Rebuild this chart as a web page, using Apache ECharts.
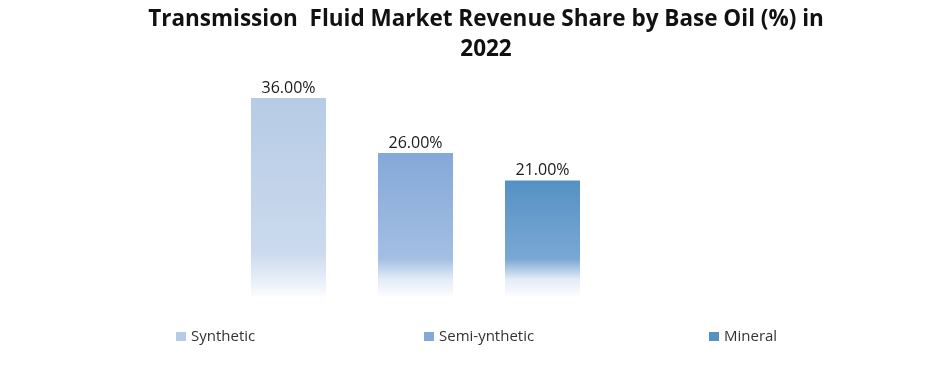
<!DOCTYPE html>
<html><head><meta charset="utf-8">
<script src="https://cdn.jsdelivr.net/npm/echarts@6/dist/echarts.min.js"></script>
<style>html,body{margin:0;padding:0;background:#fff}#c{width:935px;height:371px}</style>
</head><body><div id="c"></div>
<script>
const categories = ['Synthetic', 'Semi-ynthetic', 'Mineral'];
const values = [36, 26, 21];
const topColors = ['#b6cbe5', '#84a8d8', '#5591c5'];
const midColors = ['#cbdaee', '#a3bfe3', '#7aa8d3'];
const fadeStart = [0.78, 0.74, 0.68];

function grad(i){
  return new echarts.graphic.LinearGradient(0,0,0,1,[
    {offset:0,color:topColors[i]},
    {offset:fadeStart[i],color:midColors[i]},
    {offset:fadeStart[i]+(1-fadeStart[i])*0.55,color:'#e3ecf7'},
    {offset:1,color:'#fbfcfe'}
  ]);
}
const series = categories.map((name,i)=>({
  name:name, type:'bar', barWidth:75, barGap:'-100%',
  data: categories.map((c,j)=> j===i ? values[i] : '-'),
  itemStyle:{color:grad(i)},
  label:{show:true,position:'top',distance:2,formatter:p=>p.value.toFixed(2)+'%',
    fontFamily:'Open Sans',fontSize:16,color:'#1a1a1a'}
}));
const legendLeft = [171, 419, 704];
const legends = categories.map((name,i)=>({
  data:[{name:name,itemStyle:{color:topColors[i]}}], left:legendLeft[i], top:324,
  itemWidth:10, itemHeight:9, icon:'rect', itemGap:4,
  textStyle:{fontFamily:'Open Sans',fontSize:15,color:'#333'}
}));
const chart = echarts.init(document.getElementById('c'),null,{renderer:'canvas'});
chart.setOption({
  animation:false,
  title:{text:'Transmission  Fluid Market Revenue Share by Base Oil (%) in\n2022',left:481,textAlign:'center',top:0,
    textStyle:{fontFamily:'Open Sans',fontWeight:'bold',fontSize:22.5,color:'#111',lineHeight:30}},
  legend:legends,
  grid:{left:225,right:329,top:76,bottom:75},
  xAxis:{type:'category',data:categories,show:false},
  yAxis:{type:'value',min:0,max:40,show:false},
  series:series
});
</script></body></html>
